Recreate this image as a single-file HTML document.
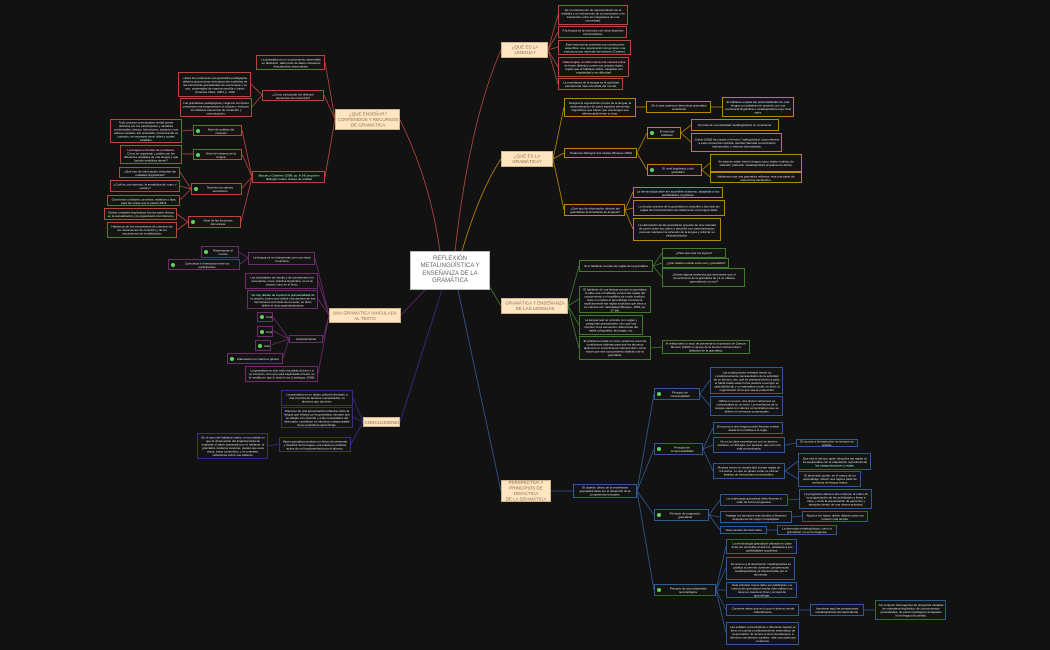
<!DOCTYPE html>
<html><head><meta charset="utf-8">
<style>
html,body{margin:0;padding:0;background:#121212;}
#c{position:relative;width:1050px;height:650px;overflow:hidden;background:#121212;font-family:"Liberation Sans",sans-serif;}
.b{position:absolute;box-sizing:border-box;border:1.2px solid;background:#141414;color:#e0e0e0;display:flex;align-items:center;justify-content:center;text-align:center;padding:0 2px;overflow:hidden;}
.b span{display:block;flex:none;width:400%;font-size:12px;line-height:14px;transform:scale(0.25);transform-origin:center center;}
.r{border-color:#b5483a;}
.g{border-color:#b8860b;}
.n{border-color:#3f7a2e;}
.p{border-color:#6b2d6b;}
.i{border-color:#3b2c8a;}
.u{border-color:#2f5b94;}
.t{position:absolute;box-sizing:border-box;background:#ffe6c2;border:1px solid #cdb48c;color:#8a6a48;display:flex;align-items:center;justify-content:center;text-align:center;overflow:hidden;}
.t span{display:block;flex:none;width:200%;font-size:9px;line-height:11px;transform:scale(0.5);transform-origin:center center;}
.d{padding-left:8px;}
.d:before{content:"";position:absolute;left:2px;top:50%;margin-top:-2px;width:4px;height:4px;border-radius:50%;background:#5fd35f;}
#m{position:absolute;left:410px;top:251px;width:80px;height:39px;background:#fff;border:1px solid #bbb;box-sizing:border-box;color:#666;font-size:6px;line-height:7.5px;display:flex;align-items:center;justify-content:center;text-align:center;}
svg{position:absolute;left:0;top:0;}
</style></head><body><div id="c">
<svg width="1050" height="650" fill="none" stroke-width="0.8">
<g stroke="#b5483a">
<path d="M440 251 Q430 180 400 120"/><path d="M455 251 Q470 120 501 50"/>
<path d="M335 119 L325 62 M335 119 L324 95 M335 119 L325 177"/>
<path d="M262 95 L251 84 M262 95 L252 107"/>
<path d="M252 177 L242 130 M252 177 L242 154 M252 177 L241 189 M252 177 L241 222"/>
<path d="M193 130 L182 131 M193 154 L182 154 M191 189 L180 172 M191 189 L180 186 M191 189 L180 200 M188 222 L177 214 M188 222 L177 230"/>
<path d="M548 50 L558 15 M548 50 L558 32 M548 50 L558 47 M548 50 L558 67 M548 50 L558 84"/>
</g>
<g stroke="#b8860b">
<path d="M462 251 Q480 190 501 159"/>
<path d="M553 159 L564 107 M553 159 L564 153 M553 159 L564 210 M636 107 L646 107 M711 107 L722 107"/>
<path d="M637 153 L647 133 M637 153 L647 170 M681 133 L691 125 M681 133 L691 142 M702 170 L710 163 M702 170 L710 177"/>
<path d="M625 210 L633 192 M625 210 L633 208 M625 210 L633 229"/>
</g>
<g stroke="#3f7a2e">
<path d="M488 284 L501 306"/>
<path d="M568 306 L579 266 M568 306 L579 299 M568 306 L579 325 M568 306 L579 348 M653 266 L662 253 M653 266 L662 263 M653 266 L662 277 M651 348 L662 347"/>
</g>
<g stroke="#6b2d6b">
<path d="M425 290 L401 315"/>
<path d="M329 315 L315 258 M329 315 L318 281 M329 315 L318 299 M329 315 L323 339 M329 315 L318 374"/>
<path d="M248 258 L239 252 M248 258 L240 264 M289 339 L273 317 M289 339 L273 331 M289 339 L271 345 M289 339 L283 358"/>
</g>
<g stroke="#3b2c8a">
<path d="M442 290 L400 422"/>
<path d="M363 422 L353 398 M363 422 L353 417 M363 422 L351 444 M279 444 L268 446"/>
</g>
<g stroke="#2f5b94">
<path d="M458 290 L501 491"/>
<path d="M551 491 L573 491 M637 491 L654 394 M637 491 L654 449 M637 491 L654 515 M637 491 L654 590"/>
<path d="M700 394 L710 380 M700 394 L710 406 M703 449 L713 428 M703 449 L713 445 M703 449 L713 471 M785 445 L796 443 M785 471 L798 461 M785 471 L798 479"/>
<path d="M709 515 L720 500 M709 515 L720 517 M709 515 L720 530 M788 500 L799 499 M792 517 L802 516 M767 530 L777 530"/>
<path d="M716 590 L726 546 M716 590 L726 568 M716 590 L726 590 M716 590 L726 610 M716 590 L726 633 M799 610 L810 610 M864 610 L875 610"/>
</g>
</svg>

<div id="m">REFLEXIÓN<br>METALINGÜÍSTICA Y<br>ENSEÑANZA DE LA<br>GRAMÁTICA</div>

<div class="t" style="left:335px;top:109px;width:65px;height:21px"><span>¿QUÉ ENSEÑAR?<br>CONTENIDOS Y RECURSOS<br>DE GRAMÁTICA</span></div>
<div class="t" style="left:501px;top:42px;width:47px;height:16px"><span>¿QUÉ ES LA<br>LENGUA?</span></div>
<div class="t" style="left:501px;top:151px;width:52px;height:16px"><span>¿QUÉ ES LA<br>GRAMÁTICA?</span></div>
<div class="t" style="left:501px;top:298px;width:67px;height:16px"><span>GRAMÁTICA Y ENSEÑANZA<br>DE LAS LENGUAS</span></div>
<div class="t" style="left:329px;top:308px;width:72px;height:15px"><span>UNA GRAMÁTICA VINCULADA<br>AL TEXTO</span></div>
<div class="t" style="left:363px;top:417px;width:37px;height:10px"><span>CONCLUSIONES</span></div>
<div class="t" style="left:501px;top:480px;width:50px;height:22px"><span>PERSPECTIVA Y<br>PRINCIPIOS DE DIDÁCTICA<br>DE LA GRAMÁTICA</span></div>

<div class="b r" style="left:256px;top:55px;width:69px;height:15px"><span>La gramática es un conocimiento observable en abstracto, data parte de datos relevantes directamente observables.</span></div>
<div class="b r" style="left:262px;top:90px;width:62px;height:11px"><span>¿Cómo estructurar los distintos elementos del contenido?</span></div>
<div class="b r" style="left:178px;top:72px;width:73px;height:25px"><span>«Para los profesores una gramática pedagógica debería proporcionar descripciones explícitas de las estructuras gramaticales de una lengua y su uso, expresadas de manera sencilla y clara» (Fuentes Vélez, 2004, p. 108)</span></div>
<div class="b r" style="left:180px;top:98px;width:72px;height:19px"><span>Las gramáticas pedagógicas y algunos currículos presentan una programación a cíclicas o incluyen los distintos elementos de contenido y comunicación.</span></div>
<div class="b r" style="left:252px;top:171px;width:73px;height:12px"><span>Brucart y Gutiérrez (1998, pp. 8-14) proponen distinguir cuatro niveles de análisis</span></div>
<div class="b r d" style="left:193px;top:125px;width:49px;height:11px"><span>Nivel de análisis del contexto</span></div>
<div class="b r d" style="left:193px;top:149px;width:49px;height:11px"><span>Nivel del sistema de la lengua</span></div>
<div class="b r d" style="left:191px;top:183px;width:51px;height:12px"><span>Nivel de los valores semánticos</span></div>
<div class="b r d" style="left:188px;top:216px;width:53px;height:12px"><span>Nivel de las funciones discursivas</span></div>
<div class="b r" style="left:110px;top:119px;width:72px;height:24px"><span>Todo proceso comunicativo verbal puede definirse por los participantes y variables contextuales: tiempo, intenciones, espacio y sus valores sociales. Así entendido, incorporando su contexto, es necesario tener útiles y cuales variables.</span></div>
<div class="b r" style="left:120px;top:145px;width:62px;height:19px"><span>La lengua en función de el sistema. Cómo se organizan ¿cuáles son las diferentes unidades de una lengua y qué función simbólica tienen?</span></div>
<div class="b r" style="left:119px;top:167px;width:61px;height:11px"><span>¿Qué tipo de información vehiculan las unidades lingüísticas?</span></div>
<div class="b r" style="left:110px;top:180px;width:70px;height:12px"><span>¿Cuál es, por ejemplo, la semántica de «car» o «estar»?</span></div>
<div class="b r" style="left:107px;top:195px;width:73px;height:11px"><span>Ocurramos unidades concretas, estáticas o fijas, para las cosas que lo pasan difícil.</span></div>
<div class="b r" style="left:104px;top:208px;width:73px;height:12px"><span>Dichas unidades lingüísticas forman parte directa en la textualización y la organización del discurso.</span></div>
<div class="b r" style="left:107px;top:222px;width:70px;height:16px"><span>Hablamos de los mecanismos de cohesión de los mecanismos de conexión y de los mecanismos de modalización.</span></div>

<div class="b r" style="left:558px;top:5px;width:70px;height:20px"><span>Es un instrumento de representación de la realidad y un instrumento de comunicación y de interacción entre los integrantes de una comunidad.</span></div>
<div class="b r" style="left:558px;top:26px;width:69px;height:12px"><span>A la lengua se la reconoce con otros aspectos comunicativos.</span></div>
<div class="b r" style="left:558px;top:40px;width:73px;height:15px"><span>Este instrumento presenta una construcción específica, una organización del general, una estructura que depende del sistema (Coseriu).</span></div>
<div class="b r" style="left:558px;top:57px;width:71px;height:20px"><span>Cada lengua, en último lleva una manera única de hacer distintos, posee sus propias reglas, reglas que el hablante utiliza, cargadas con regularidad y sin dificultad.</span></div>
<div class="b r" style="left:558px;top:78px;width:65px;height:12px"><span>La enseñanza de la lengua es la actividad educacional más extendida del mundo.</span></div>

<div class="b g" style="left:564px;top:98px;width:72px;height:19px"><span>Designa la organización propia de la lengua, la sistematización de todos aquellos elementos lingüísticos que hacen que una lengua sea diferenciada frente a otras.</span></div>
<div class="b g" style="left:646px;top:101px;width:65px;height:12px"><span>En lo que podemos denominar gramática consciente</span></div>
<div class="b g" style="left:722px;top:97px;width:72px;height:20px"><span>El hablante emplea las potencialidades de esta lengua con palabras de acuerdo con una conciencia lingüística o metalingüística cuyo nivel varía.</span></div>
<div class="b g" style="left:564px;top:148px;width:73px;height:10px"><span>Podemos distinguir dos niveles (Bosque 1994)</span></div>
<div class="b g d" style="left:647px;top:127px;width:34px;height:12px"><span>El nivel del hablante</span></div>
<div class="b g" style="left:691px;top:119px;width:88px;height:12px"><span>Se trata de una actividad metalingüística no consciente.</span></div>
<div class="b g" style="left:691px;top:133px;width:91px;height:19px"><span>Culioli (1990) ha creado el término "epilingüística" para referirse a esta conciencia implícita, también llamada conocimiento instrumental, o sistema internalizado.</span></div>
<div class="b g d" style="left:647px;top:164px;width:55px;height:12px"><span>El nivel lingüístico o del gramático</span></div>
<div class="b g" style="left:710px;top:154px;width:92px;height:18px"><span>Se trata de saber ésta la lengua como objeto explícito de reflexión (reflexión metalingüística propiamente dicha).</span></div>
<div class="b g" style="left:710px;top:172px;width:92px;height:11px"><span>Hablamos más una gramática reflexiva, esta una saber de estructuras declarativo.</span></div>
<div class="b g" style="left:564px;top:204px;width:61px;height:12px"><span>¿Qué tipo de información ofrecen las gramáticas al enseñante de lenguas?</span></div>
<div class="b g" style="left:633px;top:187px;width:90px;height:11px"><span>La terminología debe ser accesible al alumno, adaptada a sus posibilidades cognitivas.</span></div>
<div class="b g" style="left:633px;top:200px;width:92px;height:16px"><span>La función primera de la gramática es describir y formular las reglas de funcionamiento del sistema de una lengua dada.</span></div>
<div class="b g" style="left:633px;top:218px;width:88px;height:23px"><span>La elaboración de las gramáticas procede de una voluntad de poner orden los casos a describir con sistematización, para así mantener la cohesión de la lengua y reforzar su estandarización.</span></div>

<div class="b n" style="left:579px;top:260px;width:74px;height:12px"><span>Si el hablante cumple las reglas de la gramática</span></div>
<div class="b n" style="left:662px;top:248px;width:64px;height:10px"><span>¿Para qué usar los signos?</span></div>
<div class="b n" style="left:662px;top:258px;width:67px;height:10px"><span>¿Qué relación existe entre uso y gramática?</span></div>
<div class="b n" style="left:662px;top:268px;width:83px;height:19px"><span>¿Existe alguna evidencia que demuestre que el conocimiento de la gramática de L1 se obtiene aprendiendo su uso?</span></div>
<div class="b n" style="left:579px;top:286px;width:72px;height:27px"><span>El hablante de una lengua conoce su gramática si sabe que el hablante conoce las reglas del conocimiento y el equilibrio de modo implícito. Esto no implica el aprendizaje consciente explícitamente las reglas implícitas que tiene a su manera con naturalidad (Bosque, 1994, pp. 17-18).</span></div>
<div class="b n" style="left:579px;top:315px;width:64px;height:20px"><span>La lengua real no coincide con reglas y categorías gramaticales, sino que hay muchos otros elementos, diferencias del habla coloquiales, las jergas, etc.</span></div>
<div class="b n" style="left:579px;top:336px;width:72px;height:24px"><span>El problema reside en cómo podemos crear las condiciones óptimas para que los alumnos alcancen un conocimiento instrumental y cómo hacer que ese conocimiento didáctico de la gramática.</span></div>
<div class="b n" style="left:662px;top:340px;width:88px;height:14px"><span>Al relacionarlo lo sacó de presentar la exposición de Camps-Moreno (1993) un apoyo de la función instrumental o didáctica de la gramática.</span></div>

<div class="b p d" style="left:201px;top:246px;width:38px;height:12px"><span>Representar el mundo</span></div>
<div class="b p d" style="left:168px;top:259px;width:72px;height:11px"><span>Comunicar e interactuar entre los participantes</span></div>
<div class="b p" style="left:248px;top:252px;width:67px;height:13px"><span>La lengua es un instrumento con una visión heurística</span></div>
<div class="b p" style="left:245px;top:273px;width:73px;height:16px"><span>Las actividades de escrito y de comprensión en escenarios, como práctica lingüística, no es la oración, sino en el texto.</span></div>
<div class="b p" style="left:247px;top:290px;width:71px;height:19px"><span>No hay debate de explorar la gramaticalidad de la oración, bueno que definir una doctrina de sus formaciones correctas de un texto, es decir, definir el texto gramaticalmente.</span></div>
<div class="b p d" style="left:257px;top:312px;width:16px;height:10px"><span>Cohesión</span></div>
<div class="b p d" style="left:257px;top:326px;width:16px;height:11px"><span>Coherencia</span></div>
<div class="b p d" style="left:255px;top:340px;width:16px;height:11px"><span>Adecuación</span></div>
<div class="b p d" style="left:227px;top:353px;width:56px;height:11px"><span>Adecuación en cuanto a género</span></div>
<div class="b p" style="left:289px;top:335px;width:34px;height:8px"><span>Características</span></div>
<div class="b p" style="left:245px;top:366px;width:73px;height:16px"><span>La gramática no sólo está vinculada al texto y a su contexto, sino que está capacitada al texto, en la medida en que lo está el uso (Lastiegos, 2006).</span></div>

<div class="b i" style="left:281px;top:390px;width:72px;height:16px"><span>La gramática es un objeto cultural vinculado a una vivencia de factores mecanizados, no alumnos que dominen.</span></div>
<div class="b i" style="left:281px;top:407px;width:72px;height:21px"><span>Disponer de una aproximación reflexiva sobre la lengua que enlaza con la gramática, siempre que se adapte a lo ofrecido y a las necesidades del alumnado, contribuye un elemento indispensable de la enseñanza-aprendizaje.</span></div>
<div class="b i" style="left:197px;top:433px;width:71px;height:26px"><span>En el caso del hablante nativo, en la medida en que la observación del lingüista hacia de explicitar el saber practicado por el hablante, la gramática moderna moverse, puesto que esos actos, estos contenidos, y el contraste, reflexiones sobre sus saberes.</span></div>
<div class="b i" style="left:279px;top:437px;width:72px;height:15px"><span>Hacer gramática produce un efecto de presentar y describir de la lengua, una puerta en práctica activa de su funcionamiento por el alumno.</span></div>

<div class="b u" style="left:573px;top:484px;width:64px;height:14px"><span>El objetivo último de la enseñanza gramatical debe ser el desarrollo de la competencia textuales.</span></div>
<div class="b u d" style="left:654px;top:388px;width:46px;height:12px"><span>Principio de contextualidad</span></div>
<div class="b u" style="left:710px;top:367px;width:73px;height:27px"><span>Las producciones verbales tienen un condicionamiento representativo de la actividad de su alumno, así, qué se presenta tienen a cabo, el habla todas estas forma positiva a escoger en cada Bebiendo y su naturaleza social, es decir, la organización de la que sea la producción.</span></div>
<div class="b u" style="left:710px;top:396px;width:73px;height:20px"><span>Habla en su uso, una acción verbal que se contextualiza en un texto. La enseñanza de la lengua opera con valores comunicativos que se definen en términos contextuales.</span></div>
<div class="b u d" style="left:654px;top:443px;width:49px;height:12px"><span>Principio de comprensibilidad</span></div>
<div class="b u" style="left:713px;top:422px;width:70px;height:12px"><span>El recurso a una lengua puede llevarse a estar desde la normativa a la regla.</span></div>
<div class="b u" style="left:713px;top:437px;width:72px;height:16px"><span>No en la clase necesitamos con un alumno solvente, en filología, por ejemplo, que con una vida comunicativa.</span></div>
<div class="b u" style="left:796px;top:439px;width:62px;height:8px"><span>El recurso a la traducción no siempre es posible.</span></div>
<div class="b u" style="left:713px;top:463px;width:72px;height:16px"><span>Muchas veces no resulta fácil extraer reglas de los textos. Lo que se quiere evitar es ofrecer listados de estructuras memorizables.</span></div>
<div class="b u" style="left:798px;top:453px;width:73px;height:17px"><span>Que sea el alumno quien descubra las reglas no es equiparable con la adquisición reproduciendo las categorizaciones y reglas.</span></div>
<div class="b u" style="left:798px;top:471px;width:63px;height:16px"><span>El alumnado puede, en el marco de un aprendizaje, inducir una regla a partir de muestras de lengua reales.</span></div>
<div class="b u d" style="left:654px;top:509px;width:55px;height:12px"><span>Principio de progresión gramatical</span></div>
<div class="b u" style="left:720px;top:494px;width:68px;height:12px"><span>La sobrecarga gramatical debe llevarse a cabo de forma progresiva.</span></div>
<div class="b u" style="left:799px;top:489px;width:73px;height:20px"><span>La progresión afecta a dos órdenes: al orden de la programación de las actividades a llevar a cabo, y al de la presentación de ejercicios y ejemplos dentro de una misma actividad.</span></div>
<div class="b u" style="left:720px;top:511px;width:72px;height:12px"><span>Trabajar los ejemplos más simples y llevarnos después los de mayor complejidad.</span></div>
<div class="b u" style="left:802px;top:511px;width:66px;height:11px"><span>Algunos los hacen deben dejarse para una revisión más amplia.</span></div>
<div class="b u" style="left:720px;top:526px;width:47px;height:8px"><span>Nivel escolar del alumnado.</span></div>
<div class="b u" style="left:777px;top:525px;width:60px;height:10px"><span>La demanda metalingüística, como la gramatical, no es homogénea.</span></div>
<div class="b u d" style="left:654px;top:584px;width:62px;height:12px"><span>Principio de acumulatividad terminológica</span></div>
<div class="b u" style="left:726px;top:539px;width:71px;height:15px"><span>La terminología gramatical utilizada en clase debe ser accesible al alumno, adaptada a sus posibilidades cognitivas.</span></div>
<div class="b u" style="left:726px;top:557px;width:69px;height:23px"><span>El recurso a la descripción metalingüística se justifica al permitir sostener competencias metalingüísticas ya interiorizadas por el alumnado.</span></div>
<div class="b u" style="left:726px;top:582px;width:71px;height:16px"><span>Este principio nunca debe ser justificante. La instrucción gramatical resulta más válida si se tiene en cuenta el ritmo y el nivel de aprendizaje.</span></div>
<div class="b u" style="left:726px;top:604px;width:73px;height:12px"><span>Conviene saber qué es lo que el alumno tiende culturalmente.</span></div>
<div class="b u" style="left:810px;top:604px;width:54px;height:12px"><span>Interviene aquí las perspectivas metalingüísticas del aprendiente.</span></div>
<div class="b u" style="left:875px;top:600px;width:71px;height:20px"><span>Así conjunto heterogéneo de preguntas variadas de naturaleza lingüística, de conocimientos gramaticales, de juicios tipológicos arraigados en la lengua de partida.</span></div>
<div class="b u" style="left:726px;top:622px;width:73px;height:23px"><span>Las señales comunicativas o directivas operan en lleno en cuenta un planteamiento sistemático de la gramática. Si recurre a otros sucedáneos, a términos semánticos sociales, más conocidos por el alumno.</span></div>
</div></body></html>
